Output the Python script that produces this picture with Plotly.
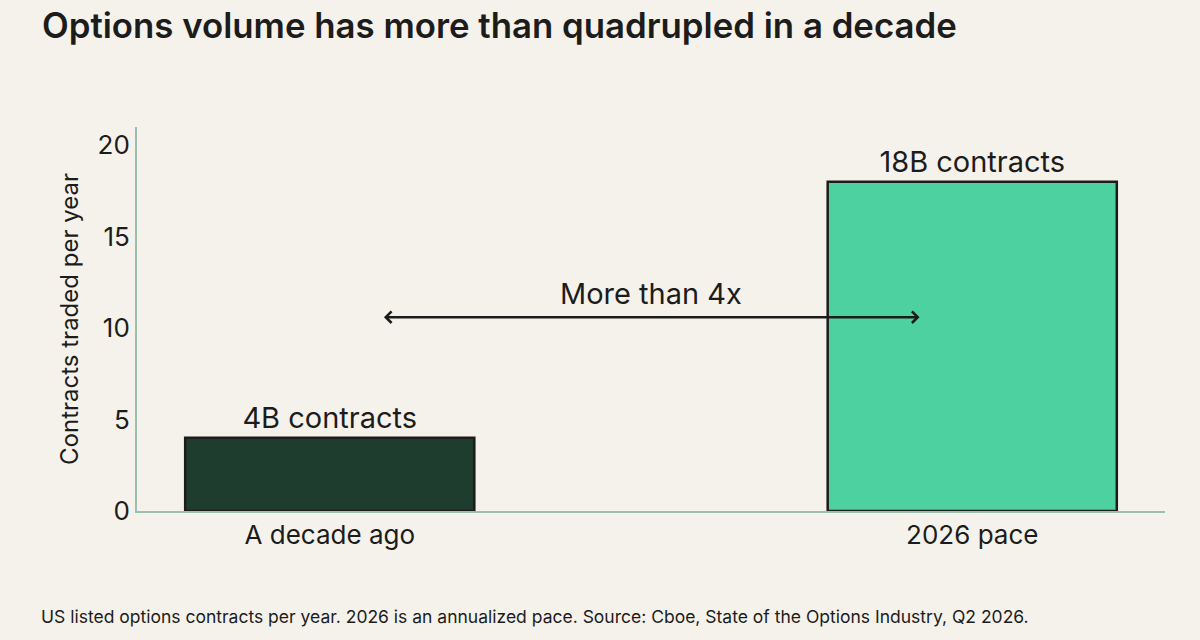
import plotly.graph_objects as go

categories = ["A decade ago", "2026 pace"]
values = [4, 18]
bar_labels = ["4B contracts", "18B contracts"]
bar_colors = ["#1F3D2F", "#4ED1A1"]
y_ticks = [0, 5, 10, 15, 20]
arrow_label = "More than 4x"
arrow_y = 10.6

positions = list(range(len(categories)))
FONT = "Inter"
INK = "#1c1c1c"

fig = go.Figure()
fig.add_trace(go.Bar(
    x=positions, y=values, width=0.45,
    marker=dict(color=bar_colors, line=dict(color=INK, width=2.5)),
    text=bar_labels, textposition="outside",
    textfont=dict(family=FONT, size=29, color=INK),
    cliponaxis=False, hoverinfo="skip",
))

fig.add_annotation(
    x=0.918, y=arrow_y, ax=0.082, ay=arrow_y,
    xref="x", yref="y", axref="x", ayref="y",
    showarrow=True, arrowhead=4, arrowside="end+start",
    arrowwidth=2.5, arrowsize=0.9, arrowcolor=INK, text="",
)
fig.add_annotation(
    x=0.5, y=arrow_y, xref="x", yref="y", text=arrow_label,
    showarrow=False, yanchor="bottom", yshift=4,
    font=dict(family=FONT, size=29, color=INK),
)
fig.add_annotation(
    x=-0.095, y=-0.276, xref="paper", yref="paper", xanchor="left", yanchor="middle",
    text="US listed options contracts per year. 2026 is an annualized pace. Source: Cboe, State of the Options Industry, Q2 2026.",
    showarrow=False, font=dict(family=FONT, size=17.5, color=INK),
)

fig.update_layout(
    width=1200, height=640,
    paper_bgcolor="#F5F2EB", plot_bgcolor="#F5F2EB",
    margin=dict(l=137, r=35, t=127, b=129),
    showlegend=False,
    title=dict(text="Options volume has more than quadrupled in a decade",
               x=0.035, xanchor="left", y=0.978, yanchor="top",
               font=dict(family=FONT, size=34.8, color=INK, weight=600)),
    xaxis=dict(range=[-0.3, 1.3], tickvals=positions, ticktext=categories,
               showgrid=False, zeroline=False, showline=True,
               linecolor="#9DBFB0", linewidth=2, ticks="",
               tickfont=dict(family=FONT, size=26, color=INK)),
    yaxis=dict(range=[0, 21], tickvals=y_ticks, showgrid=False,
               zeroline=False, showline=True, linecolor="#9DBFB0",
               linewidth=2, ticks="",
               title=dict(text="Contracts traded per year", standoff=12,
                          font=dict(family=FONT, size=24, color=INK)),
               tickfont=dict(family=FONT, size=26, color=INK)),
)
fig.write_html("out.html", config={"displayModeBar": False},
               post_script="document.body.style.margin='0';")
